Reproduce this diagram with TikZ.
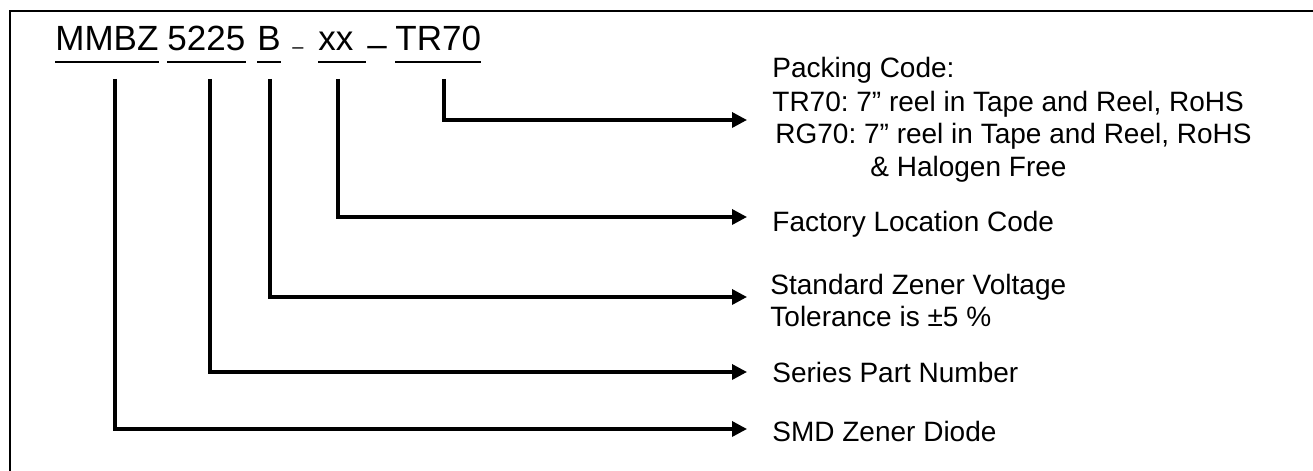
\documentclass[tikz,border=0pt]{standalone}
\usepackage{fontspec}
\setmainfont{Liberation Sans}
\frenchspacing
\usetikzlibrary{arrows.meta}
\tikzset{
  frame/.style={line width=1.1pt, black},
  conn/.style={line width=1.7pt, -{Triangle[length=7.5pt,width=7.5pt]}},
  ulin/.style={line width=1.3pt},
  part/.style={anchor=base west, inner sep=0pt, font=\fontsize{17.5}{21}\selectfont},
  lbl/.style={anchor=base west, inner sep=0pt, font=\fontsize{14}{16.5}\selectfont}
}
\begin{document}
\begin{tikzpicture}[x=1pt,y=1pt]
\useasboundingbox (0,0) rectangle (656.5,235.5);
% frame
\draw[frame] (5,-2) -- (5,230) -- (660,230);
% title parts
\node[part] (t1) at (27.5,210) {MMBZ};
\node[part] (t2) at (83.5,210) {5225};
\node[part] (t3) at (128.5,210) {B};
\node[part, font=\fontsize{10}{11}\selectfont] (d1) at (146,208.5) {–};
\node[part] (t4) at (159,210) {xx};
\node[part] (d2) at (183.5,207) {–};
\node[part] (t5) at (197.5,210) {TR70};
\foreach \n in {t1,t2,t3,t5}
  \draw[ulin] ([yshift=-5.5pt]\n.base west) -- ([yshift=-5.5pt]\n.base east);
\draw[ulin] ([yshift=-5.5pt]t4.base west) -- ([yshift=-5.5pt,xshift=6pt]t4.base east);
% start points
\coordinate (s1) at (57.5,196);
\coordinate (s2) at (105,196);
\coordinate (s3) at (135,196);
\coordinate (s4) at (169,196);
\coordinate (s5) at (222,196);
% arrow ends
\coordinate (a5) at (373.5,175.5);
\coordinate (a4) at (373.5,127);
\coordinate (a3) at (373.5,87);
\coordinate (a2) at (373.5,49.5);
\coordinate (a1) at (373.5,21);
% labels
\node[lbl] (p1) at (386,196.5) {Packing Code:};
\node[lbl] (p2) at (386,179.5) {TR70: 7” reel in Tape and Reel, RoHS};
\node[lbl] (p3) at (387.5,163.5) {RG70: 7” reel in Tape and Reel, RoHS};
\node[lbl] (p4) at (435,147) {\& Halogen Free};
\node[lbl] (f1) at (386,119.5) {Factory Location Code};
\node[lbl] (v1) at (385,88) {Standard Zener Voltage};
\node[lbl] (v2) at (385,72) {Tolerance is ±5 \%};
\node[lbl] (r1) at (386,44) {Series Part Number};
\node[lbl] (z1) at (386,14.5) {SMD Zener Diode};
% connectors
\draw[conn] (s5) |- (a5);
\draw[conn] (s4) |- (a4);
\draw[conn] (s3) |- (a3);
\draw[conn] (s2) |- (a2);
\draw[conn] (s1) |- (a1);
\end{tikzpicture}
\end{document}
